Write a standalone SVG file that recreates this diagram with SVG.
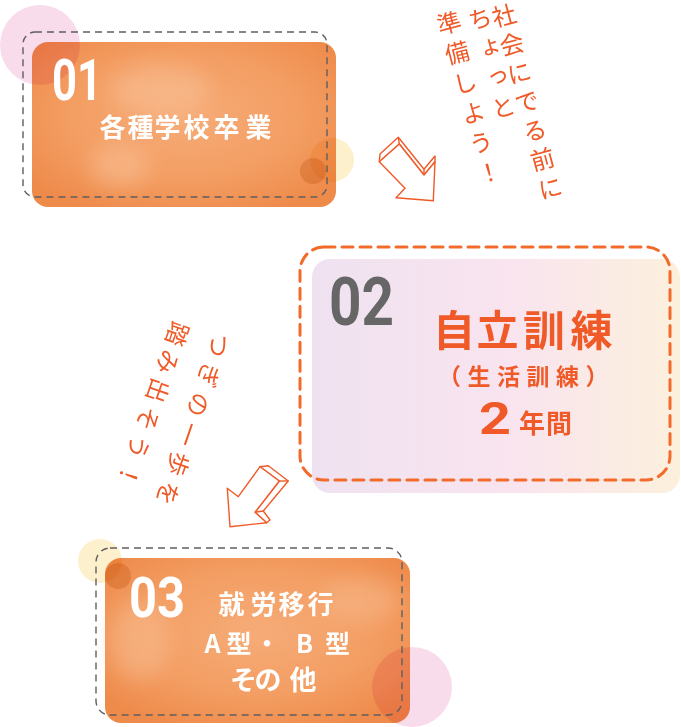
<svg xmlns="http://www.w3.org/2000/svg" width="681" height="727" viewBox="0 0 681 727">
<defs>
<style>
.jpb{font-family:"Noto Sans CJK JP","Noto Sans",sans-serif;font-weight:700;}
.jp{font-family:"Noto Sans CJK JP","Noto Sans",sans-serif;font-weight:400;fill:#f05a28;}
.num{font-family:Roboto,"Liberation Sans",sans-serif;font-weight:700;}
.wh{fill:#ffffff;}
.gdash{fill:none;stroke:#5f5f5f;stroke-width:1.4;stroke-dasharray:7 5;}
.odash{fill:none;stroke:#f26b2a;stroke-width:3;stroke-dasharray:11 7;stroke-linecap:round;}
.mul{mix-blend-mode:multiply;}
.arrow{fill:#ffffff;stroke:#f05a28;stroke-width:1.4;stroke-linejoin:round;}
.aline{fill:none;stroke:#f05a28;stroke-width:1.4;stroke-linejoin:round;}
</style>
<radialGradient id="orange" cx="50%" cy="45%" r="65%">
<stop offset="0" stop-color="#f6ac78"/>
<stop offset="0.6" stop-color="#f39d62"/>
<stop offset="1" stop-color="#ee8a4a"/>
</radialGradient>
<linearGradient id="pinkgrad" x1="0" y1="0" x2="1" y2="0">
<stop offset="0" stop-color="#efe2f0"/>
<stop offset="0.55" stop-color="#f9e4ef"/>
<stop offset="1" stop-color="#fcf0dc"/>
</linearGradient>
<filter id="soft" x="-50%" y="-50%" width="200%" height="200%">
<feGaussianBlur stdDeviation="10"/>
</filter>
</defs>

<g id="node-01">
<rect x="32" y="42" width="304" height="165" rx="16" fill="url(#orange)"/>
<ellipse cx="160" cy="90" rx="50" ry="25" fill="#f9c29a" opacity="0.5" filter="url(#soft)"/>
<ellipse cx="120" cy="165" rx="30" ry="22" fill="#f9c29a" opacity="0.5" filter="url(#soft)"/>
<circle class="mul" cx="40" cy="45" r="40" fill="#f9dceb"/>
<circle class="mul" cx="332" cy="160" r="22" fill="#fdf0cc"/>
<circle class="mul" cx="313" cy="171" r="13" fill="#efdcbc"/>
<rect class="gdash" x="23" y="32" width="304" height="165" rx="12"/>
<text class="num wh" x="52" y="100" font-size="58" textLength="50" lengthAdjust="spacingAndGlyphs">01</text>
<text class="jpb wh" font-size="26" y="125" dominant-baseline="central" text-anchor="middle" x="112.5 140.5 167.5 196.5 226.5 258.5">各種学校卒業</text>
</g>

<g id="node-02">
<rect x="312" y="259" width="368" height="234" rx="18" fill="url(#pinkgrad)"/>
<rect class="odash" x="300" y="247" width="370" height="233" rx="24"/>
<text class="num" fill="#666666" x="329" y="325" font-size="66" textLength="65" lengthAdjust="spacingAndGlyphs">02</text>
<text class="jpb" fill="#f05a28" font-size="42" y="327" dominant-baseline="central" text-anchor="middle" x="454 497.5 544 591.5">自立訓練</text>
<text class="jpb" fill="#f05a28" font-size="23" y="375" dominant-baseline="central" x="438" letter-spacing="6.5">（生活訓練）</text>
<text class="num" fill="#f05a28" font-size="44" y="434" x="479" textLength="32" lengthAdjust="spacingAndGlyphs">2</text>
<text class="jpb" fill="#f05a28" font-size="26" y="421.5" dominant-baseline="central" x="519" letter-spacing="1">年間</text>
</g>

<g id="node-03">
<rect x="105" y="558" width="305" height="165" rx="16" fill="url(#orange)"/>
<ellipse cx="140" cy="640" rx="30" ry="40" fill="#f9c29a" opacity="0.45" filter="url(#soft)"/>
<ellipse cx="360" cy="600" rx="40" ry="22" fill="#f9c29a" opacity="0.4" filter="url(#soft)"/>
<circle class="mul" cx="100" cy="561" r="22" fill="#fdf0cc"/>
<circle class="mul" cx="118" cy="576" r="13" fill="#efdcbc"/>
<circle class="mul" cx="412" cy="687" r="40" fill="#f9dceb"/>
<rect class="gdash" x="96" y="548" width="306" height="167" rx="14"/>
<text class="num wh" x="129" y="617" font-size="56" textLength="56" lengthAdjust="spacingAndGlyphs">03</text>
<text class="jpb wh" font-size="26" y="602" dominant-baseline="central" text-anchor="middle" x="231.5 263.5 291.5 320.5">就労移行</text>
<text class="jpb wh" font-size="25" y="642" dominant-baseline="central" text-anchor="middle" x="212.5 226 239 267 304.5 320 337.5">A 型・B 型</text>
<text class="jpb wh" font-size="27" y="678" dominant-baseline="central" text-anchor="middle" x="243.5 268 303">その他</text>
</g>

<g id="note-top">
<g transform="translate(448,23) rotate(-15)">
<text class="jp" font-size="24" x="56" y="-5" letter-spacing="5.8" style="writing-mode:vertical-rl">社会にでる前に</text>
<text class="jp" font-size="24" x="32" y="-8" letter-spacing="6.5" style="writing-mode:vertical-rl">ちょっと</text>
<text class="jp" font-size="24" x="1" y="-12" letter-spacing="7" style="writing-mode:vertical-rl">準備しよう！</text>
</g>
</g>

<g id="note-middle">
<g transform="translate(223,347) rotate(109)">
<text class="jp" font-size="24" x="-12" y="3" dominant-baseline="central" letter-spacing="7.3">つぎの一歩を</text>
<text class="jp" font-size="24" x="-9.4" y="46" dominant-baseline="central" letter-spacing="5.9">踏み出そう！</text>
</g>
</g>

<g id="connectors">
<g id="arrow-1">
<polygon class="arrow" points="380,154 398.3,137.3 424,169.3 435,156 435,161.7 424,175 399.3,144 379.3,161.7"/>
<polygon class="arrow" points="379.3,161.7 399.3,144 424,175 435,161.7 433.3,200.7 396,197.7 405,188.3"/>
<polyline class="aline" points="398.3,137.3 399.3,144"/>
<polyline class="aline" points="424,169.3 424,175"/>
</g>
<g id="arrow-2">
<polygon class="arrow" points="260,466.7 268.3,465.7 288.3,481 263.3,511 270,520 266.7,522.7 255,512.3 279.3,481"/>
<polygon class="arrow" points="260,466.7 279.3,481 255,512.3 266.7,522.7 230,526.7 227.3,488.3 238.3,496.7"/>
<polyline class="aline" points="279.3,481 288.3,481"/>
<polyline class="aline" points="255,512.3 263.3,511"/>
</g>
</g>
</svg>
